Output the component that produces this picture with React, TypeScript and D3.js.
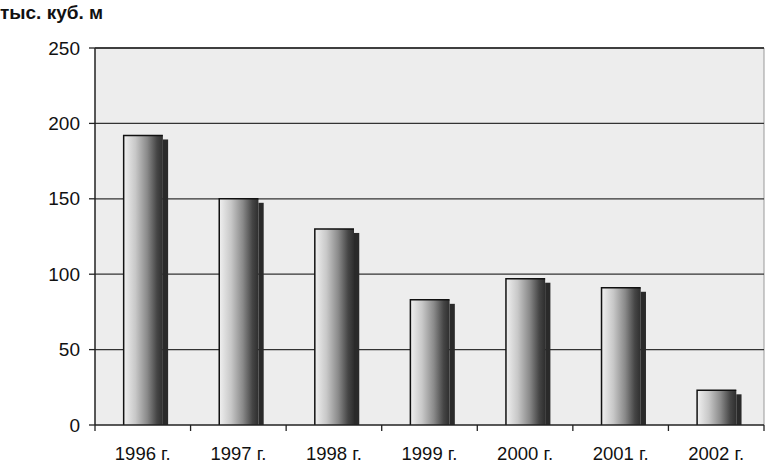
import React from "react";
import * as d3 from "d3";

const categories = ["1996 г.", "1997 г.", "1998 г.", "1999 г.", "2000 г.", "2001 г.", "2002 г."];
const values = [192, 150, 130, 83, 97, 91, 23];
const yTicks = [0, 50, 100, 150, 200, 250];
const unitLabel = "тыс. куб. м";

const W = 767, H = 463;
const M = { left: 95, right: 3, top: 48, bottom: 38 };

export default function App() {
  const x = d3.scaleBand<string>().domain(categories).range([M.left, W - M.right]).paddingInner(0).paddingOuter(0);
  const y = d3.scaleLinear().domain([0, 250]).range([H - M.bottom, M.top]);
  const bw = x.bandwidth();
  const frontW = bw * 0.41;
  const sideW = bw * 0.055;
  const off = bw * 0.3;
  const font = "'Liberation Sans', Arial, sans-serif";
  return (
    <svg width={W} height={H} style={{ position: "absolute", left: 0, top: 0, background: "#fff" }}>
      <defs>
        <linearGradient id="g" x1="0" x2="1" y1="0" y2="0">
          <stop offset="0" stopColor="#f0f0f0" />
          <stop offset="0.3" stopColor="#c8c8c8" />
          <stop offset="0.6" stopColor="#8a8a8a" />
          <stop offset="0.85" stopColor="#454545" />
          <stop offset="1" stopColor="#2e2e2e" />
        </linearGradient>
      </defs>
      <rect x={M.left} y={M.top} width={W - M.right - M.left} height={H - M.bottom - M.top} fill="#ededed" />
      <line x1={W - M.right} x2={W - M.right} y1={M.top} y2={H - M.bottom} stroke="#999" strokeWidth={1} />
      {yTicks.map((t) => (
        <g key={t}>
          {t > 0 && <line x1={M.left} x2={W - M.right} y1={y(t)} y2={y(t)} stroke="#333" strokeWidth={1.3} />}
          <line x1={M.left - 6} x2={M.left} y1={y(t)} y2={y(t)} stroke="#222" strokeWidth={1.3} />
          <text x={M.left - 15} y={y(t)} dy="0.35em" textAnchor="end" fontFamily={font} fontSize={19} fill="#111">{t}</text>
        </g>
      ))}
      {categories.map((c, i) => {
        const x0 = (x(c) as number) + off;
        const yt = y(values[i]);
        const yb = y(0);
        return (
          <g key={c}>
            <rect x={x0 + frontW} y={yt + 4} width={sideW} height={yb - yt - 4} fill="#2a2a2a" />
            <rect x={x0} y={yt} width={frontW} height={yb - yt} fill="url(#g)" />
            <path d={`M${x0},${yb} V${yt} H${x0 + frontW}`} fill="none" stroke="#111" strokeWidth={1.5} />
            <text x={(x(c) as number) + bw / 2} y={H - 3} textAnchor="middle" fontFamily={font} fontSize={18.5} fill="#111">{c}</text>
          </g>
        );
      })}
      {categories.concat([""]).map((c, i) => {
        const xx = M.left + i * bw;
        return <line key={i} x1={xx} x2={xx} y1={H - M.bottom} y2={H - M.bottom + 6} stroke="#222" strokeWidth={1.3} />;
      })}
      <line x1={M.left} x2={M.left} y1={M.top} y2={H - M.bottom} stroke="#222" strokeWidth={1.5} />
      <line x1={M.left} x2={W - M.right} y1={H - M.bottom} y2={H - M.bottom} stroke="#222" strokeWidth={1.5} />
      <line x1={M.left} x2={W - M.right} y1={M.top} y2={M.top} stroke="#333" strokeWidth={1.3} />
      <text x={0} y={19} fontFamily={font} fontWeight="bold" fontSize={19} fill="#111">{unitLabel}</text>
    </svg>
  );
}
